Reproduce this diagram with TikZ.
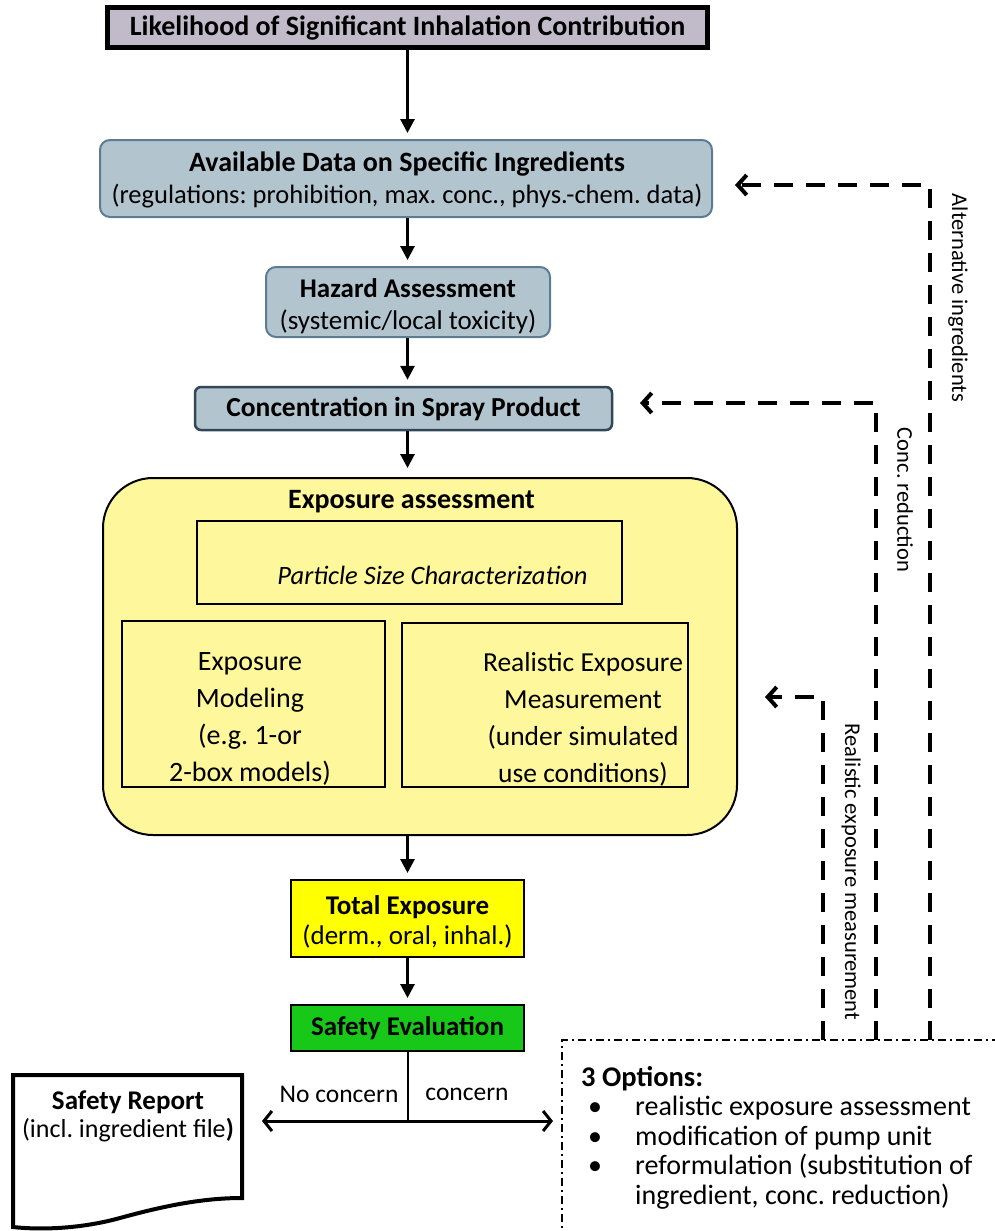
\documentclass[tikz,border=0pt]{standalone}
\usepackage{fontspec}
\setmainfont{Carlito}
\usetikzlibrary{arrows.meta,calc}
\definecolor{lilac}{RGB}{193,186,201}
\definecolor{bluegray}{RGB}{178,197,207}
\definecolor{bgborder}{RGB}{92,124,148}
\definecolor{bgdark}{RGB}{50,70,88}
\definecolor{paleyellow}{RGB}{255,247,155}
\definecolor{brightyellow}{RGB}{255,255,0}
\definecolor{sgreen}{RGB}{24,200,24}
\frenchspacing
\begin{document}
\begin{tikzpicture}[x=1pt,y=-1pt,
  txt/.style={font=\fontsize{27}{32}\selectfont, align=center, inner sep=0pt},
  bluebox/.style={draw=bgborder, line width=2pt, fill=bluegray, rounded corners=10pt, inner sep=0pt},
  plainbox/.style={draw=black, line width=2pt, fill=paleyellow, inner sep=0pt},
  flowarrow/.style={line width=3pt, -{Triangle[length=14pt,width=14pt]}, shorten >=6pt},
  fb/.style={line width=4.5pt, dash pattern=on 19pt off 13pt, -{Straight Barb[length=9pt,width=20pt,line width=4pt]}},
  sidelabel/.style={font=\fontsize{22.5}{24}\selectfont, rotate=-90, inner sep=0pt},
  dashdot/.style={line width=1.5pt, dash pattern=on 8pt off 4pt on 2pt off 4pt}
]
\useasboundingbox (0,0) rectangle (994,1231);

% top box
\node[draw=black, line width=5pt, fill=lilac, minimum width=600pt, minimum height=40pt, inner sep=0pt,
      font=\bfseries\fontsize{28}{30}\selectfont] (top) at (407.5,28) {Likelihood of Significant Inhalation Contribution};

% available data
\node[bluebox, minimum width=612pt, minimum height=77pt] (avail) at (406,178.5) {};
\node[txt] (availtxt) at (407,180) {\textbf{\fontsize{28}{32}\selectfont Available Data on Specific Ingredients}\\{\fontsize{26.5}{32}\selectfont(regulations: prohibition, max. conc., phys.-chem. data)}};

% hazard
\node[bluebox, minimum width=284pt, minimum height=70pt] (hazard) at (408,302) {};
\node[txt] (hazardtxt) at (408,306) {\textbf{Hazard Assessment}\\(systemic/local toxicity)};

% concentration
\node[draw=bgdark, line width=2.5pt, fill=bluegray, rounded corners=6pt, inner sep=0pt,
      minimum width=417pt, minimum height=43pt, font=\bfseries\fontsize{27.5}{30}\selectfont] (conc) at (403.5,408.5) {Concentration in Spray Product};

% exposure assessment
\node[draw=black, line width=2pt, fill=paleyellow, rounded corners=50pt, minimum width=634pt, minimum height=357pt] (expo) at (420,656.5) {};
\node[txt, font=\bfseries\fontsize{28}{30}\selectfont] (expotitle) at (411.5,502) {Exposure assessment};
\node[plainbox, minimum width=425pt, minimum height=83pt] (particle) at (409.5,562.5) {};
\node[txt, font=\itshape\fontsize{26.5}{30}\selectfont] (particletxt) at (432.5,575) {Particle Size Characterization};
\node[plainbox, minimum width=263pt, minimum height=166pt] (model) at (253.5,704) {};
\node[txt, font=\fontsize{28}{37}\selectfont] (modeltxt) at (250,719) {Exposure\\Modeling\\(e.g. 1-or\\2-box models)};
\node[plainbox, minimum width=286pt, minimum height=164pt] (real) at (545,705) {};
\node[txt, font=\fontsize{27.5}{37}\selectfont] (realtxt) at (583,719) {Realistic Exposure\\Measurement\\(under simulated\\use conditions)};

% total exposure
\node[draw=black, line width=2pt, fill=brightyellow, minimum width=233pt, minimum height=77pt, inner sep=0pt] (total) at (407.5,918.5) {};
\node[txt, font=\fontsize{27}{30}\selectfont] (totaltxt) at (407.5,922) {\textbf{Total Exposure}\\(derm., oral, inhal.)};

% safety evaluation
\node[draw=black, line width=2pt, fill=sgreen, minimum width=233pt, minimum height=46pt, inner sep=0pt,
      font=\bfseries\fontsize{27}{30}\selectfont] (safety) at (407.5,1028) {Safety Evaluation};

% safety report (document shape)
\draw[line width=4pt, fill=white] (13,1075) -- (242,1075) -- (242,1198)
   .. controls (200,1198) and (160,1207) .. (120,1218)
   .. controls (80,1229) and (40,1230) .. (13,1227) -- cycle;
\node[txt, font=\fontsize{26}{28}\selectfont] (report) at (128,1116) {\textbf{\fontsize{27}{28}\selectfont Safety Report}\\(incl. ingredient file\textbf{)}};

% options box
\draw[dashdot] (562,1240) |- (1000,1040);
\node[anchor=north west, align=left, inner sep=0pt, font=\fontsize{28}{29.5}\selectfont] (opts) at (581,1066)
  {{\bfseries\fontsize{28.5}{29.5}\selectfont 3 Options:}\\
   \makebox[54pt][l]{\hspace{7pt}•}realistic exposure assessment\\
   \makebox[54pt][l]{\hspace{7pt}•}modification of pump unit\\
   \makebox[54pt][l]{\hspace{7pt}•}reformulation (substitution of\\
   \hspace{54pt}ingredient, conc. reduction)};

% main flow arrows
\draw[flowarrow] (top.south -| total) -- (avail.north -| total);
\draw[flowarrow] (avail.south -| total) -- (hazard.north -| total);
\draw[flowarrow] (hazard.south -| total) -- (conc.north -| total);
\draw[flowarrow, shorten >=9pt] (conc.south -| total) -- (expo.north -| total);
\draw[flowarrow] (expo.south -| total) -- (total);
\draw[flowarrow] (total) -- (safety);

% decision
\coordinate (split) at (407.5,1121);
\coordinate (leftend) at (262,1121);
\coordinate (rightend) at (553,1121);
\draw[line width=2pt] (safety) -- (split);
\draw[line width=3pt, {Straight Barb[length=8pt,width=20pt,line width=3pt]}-{Straight Barb[length=8pt,width=20pt,line width=3pt]}] (leftend) -- (rightend);
\node[font=\fontsize{25.5}{28}\selectfont, inner sep=0pt] (nocon) at (339,1094) {No concern};
\node[font=\fontsize{25.5}{28}\selectfont, inner sep=0pt] (con) at (467,1094) {concern};

% feedback loops
\coordinate (altstart) at (930,1040);
\coordinate (alttip) at (735,185);
\coordinate (concstart) at (876,1040);
\coordinate (conctip) at (640,403);
\coordinate (realstart) at (823,1040);
\coordinate (realtip) at (765,697);
\draw[fb] (altstart) |- (alttip);
\draw[fb] (concstart) |- (conctip);
\draw[fb] (realstart) |- (realtip);
\node[sidelabel] (altlbl) at (958,298) {Alternative ingredients};
\node[sidelabel] (conclbl) at (905,500) {Conc. reduction};
\node[sidelabel] (reallbl) at (851,872) {Realistic exposure measurement};
\end{tikzpicture}
\end{document}
